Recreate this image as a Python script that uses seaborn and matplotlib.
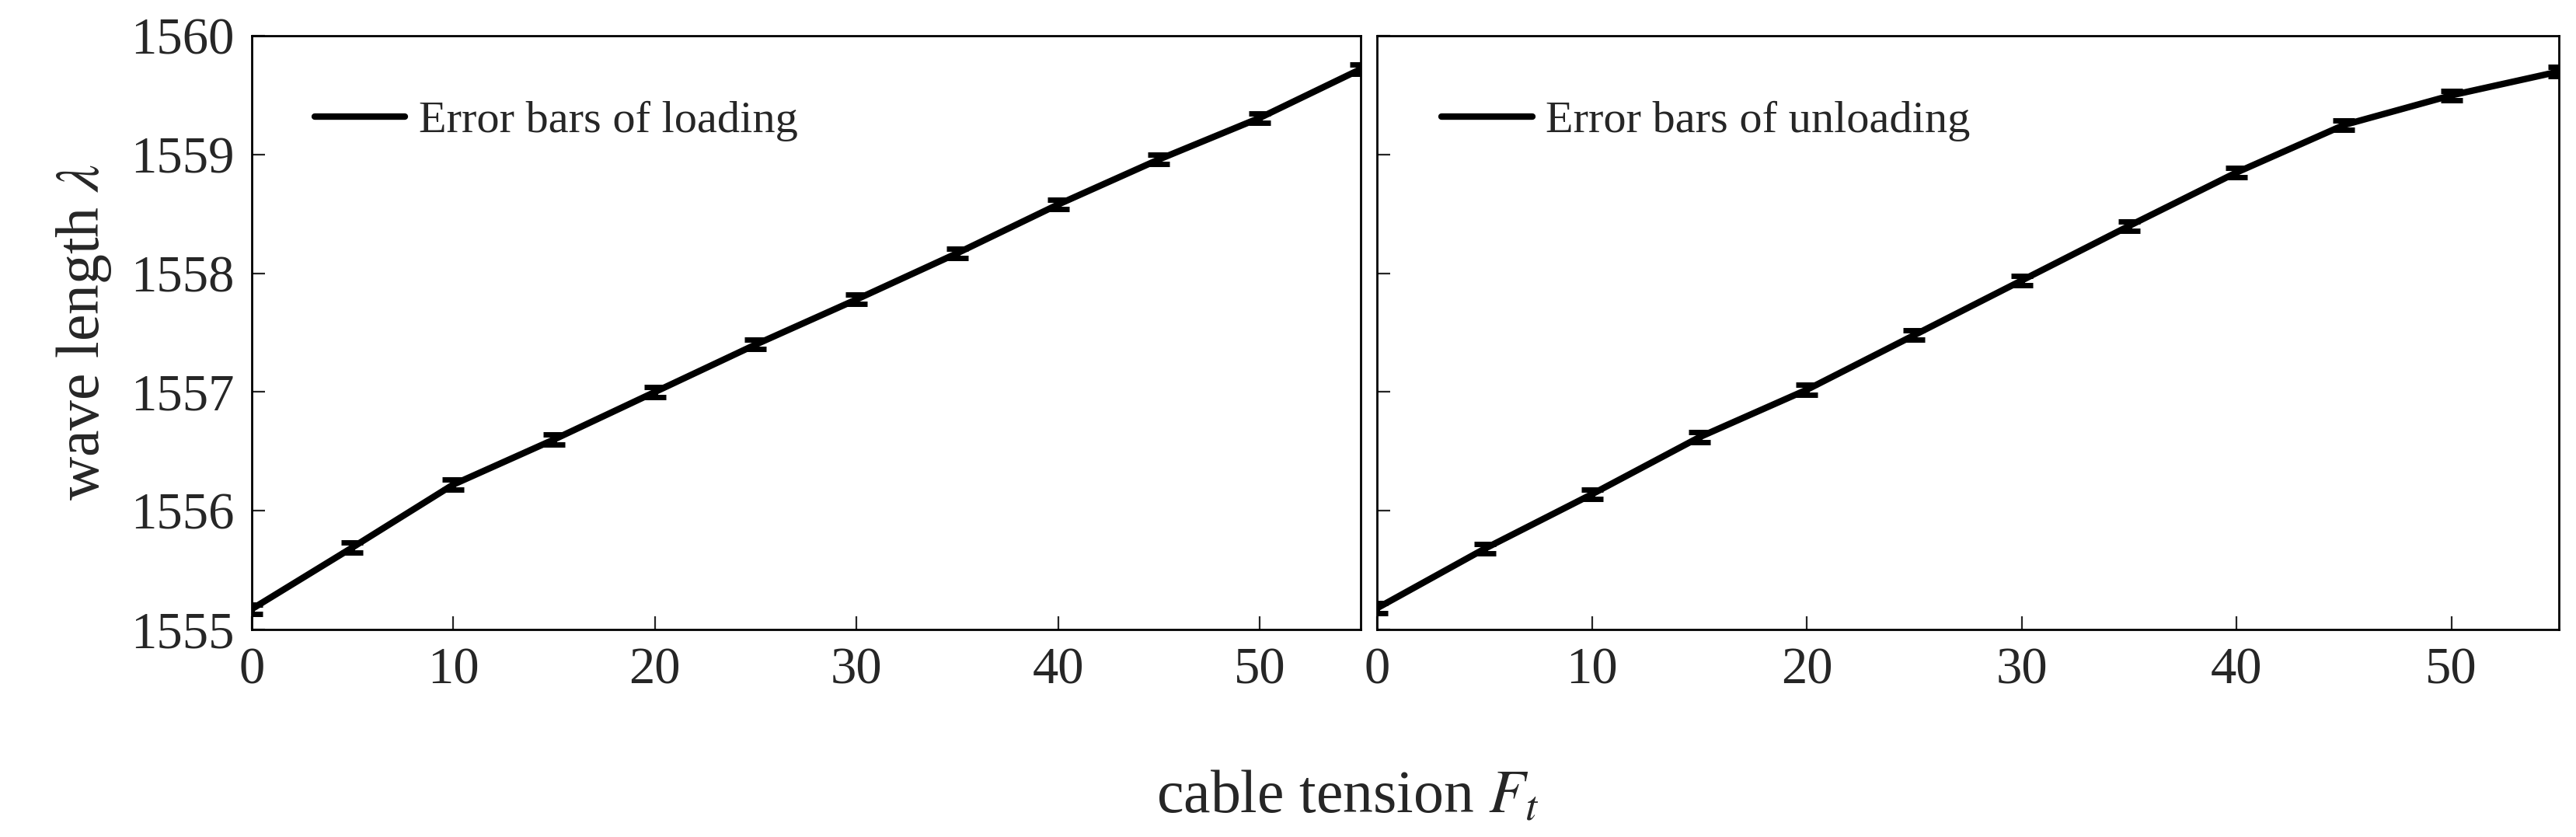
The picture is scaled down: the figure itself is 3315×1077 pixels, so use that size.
import matplotlib
matplotlib.use("Agg")
import matplotlib.pyplot as plt
import seaborn as sns
import pandas as pd

# data
tension = [0, 5, 10, 15, 20, 25, 30, 35, 40, 45, 50, 55]
loading = [1555.17, 1555.69, 1556.22, 1556.60, 1557.00, 1557.40,
           1557.78, 1558.17, 1558.58, 1558.96, 1559.31, 1559.72]
unloading = [1555.18, 1555.68, 1556.14, 1556.62, 1557.02, 1557.48,
             1557.94, 1558.40, 1558.85, 1559.25, 1559.50, 1559.70]
err_load = [0.04] * 12
err_unload = [0.04] * 12

sns.set_style("white")
plt.rcParams['font.family'] = ['Liberation Serif', 'DejaVu Serif']
plt.rcParams['mathtext.fontset'] = 'stix'

fig = plt.figure(figsize=(16.58, 5.385), dpi=200)
ax1 = fig.add_axes([0.0976, 0.248, 0.4304, 0.709])
ax2 = fig.add_axes([0.5345, 0.248, 0.4585, 0.709])

panels = [
    (ax1, loading, err_load, "Error bars of loading"),
    (ax2, unloading, err_unload, "Error bars of unloading"),
]

for ax, vals, err, label in panels:
    df = pd.DataFrame({"x": tension, "y": vals})
    sns.lineplot(data=df, x="x", y="y", ax=ax, color="black",
                 linewidth=3, label=label)
    ax.errorbar(tension, vals, yerr=err, fmt="none", ecolor="black",
                elinewidth=2.5, capsize=5, capthick=2.5)
    ax.set_xlim(0, 55)
    ax.set_ylim(1555, 1560)
    ax.set_xticks([0, 10, 20, 30, 40, 50])
    ax.set_yticks([1555, 1556, 1557, 1558, 1559, 1560])
    ax.tick_params(direction="in", labelsize=24, length=6, pad=8,
                   bottom=True, left=True, top=False, right=False)
    ax.set_xlabel("")
    ax.set_ylabel("")
    for s in ax.spines.values():
        s.set_color("black")
        s.set_linewidth(1.0)
    ax.legend(loc="upper left", frameon=False, fontsize=21,
              handlelength=2.0, handletextpad=0.3,
              bbox_to_anchor=(0.02, 0.96))

ax2.set_yticklabels([])
ax1.set_ylabel(r"wave length $\lambda$", fontsize=28, labelpad=8)
fig.text(0.523, 0.03, r"cable tension $F_t$", fontsize=28, ha="center")

fig.savefig("out.png", dpi=200)
